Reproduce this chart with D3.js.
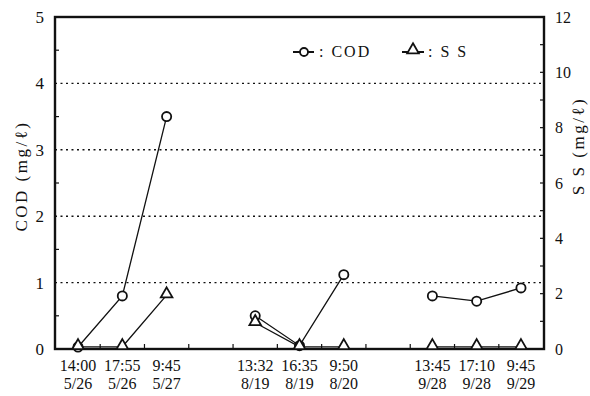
<!DOCTYPE html>
<html><head><meta charset="utf-8">
<script src="https://cdn.jsdelivr.net/npm/d3@7"></script>
<style>body{margin:0;background:#fff}svg{display:block}svg text{font-family:"Liberation Serif","DejaVu Serif",serif !important;fill:#111}</style>
</head><body>
<svg id="c" width="590" height="396"></svg>
<script>
const timeLabels = ["14:00","17:55","9:45","13:32","16:35","9:50","13:45","17:10","9:45"];
const dateLabels = ["5/26","5/26","5/27","8/19","8/19","8/20","9/28","9/28","9/29"];
const slots = [0,1,2,4,5,6,8,9,10];
const groups = [[0,1,2],[3,4,5],[6,7,8]];
const codValues = [0.03,0.8,3.5,0.5,0.05,1.12,0.8,0.72,0.92];
const ssValues = [0.08,0.08,1.95,0.95,0.08,0.08,0.08,0.08,0.08];
const codTicks = [0,1,2,3,4,5];
const ssTicks = [0,2,4,6,8,10,12];

const svg = d3.select("#c");
const L=55,R=544,T=17,B=349;
const x = d3.scaleLinear().domain([-0.52,10.52]).range([L,R]);
const yC = d3.scaleLinear().domain([0,5]).range([B,T]);
const yS = d3.scaleLinear().domain([0,12]).range([B,T]);

// gridlines
svg.append("g").selectAll("line").data([1,2,3,4]).join("line")
  .attr("x1",L).attr("x2",R).attr("y1",d=>yC(d)).attr("y2",d=>yC(d))
  .attr("stroke","#111").attr("stroke-width",1.4).attr("stroke-dasharray","2,3.5");

// left axis
const lAx = svg.append("g").attr("transform",`translate(${L},0)`)
  .call(d3.axisLeft(yC).tickValues(codTicks).tickSize(0).tickPadding(11).tickFormat(d3.format("d")));
lAx.select(".domain").remove();
lAx.selectAll("text").attr("font-size",17);
svg.append("g").selectAll("line").data(d3.range(0.5,5,1)).join("line")
  .attr("x1",L).attr("x2",L+4).attr("y1",d=>yC(d)).attr("y2",d=>yC(d)).attr("stroke","#111").attr("stroke-width",1.2);

// right axis
const rAx = svg.append("g").attr("transform",`translate(${R},0)`)
  .call(d3.axisRight(yS).tickValues(ssTicks).tickSize(0).tickPadding(11).tickFormat(d3.format("d")));
rAx.select(".domain").remove();
rAx.selectAll("text").attr("font-size",16);
svg.append("g").selectAll("line").data(d3.range(1,12,1)).join("line")
  .attr("x1",R-4).attr("x2",R).attr("y1",d=>yS(d)).attr("y2",d=>yS(d)).attr("stroke","#111").attr("stroke-width",1.2);

// x ticks (between slots)
svg.append("g").selectAll("line").data(d3.range(0.5,10,1)).join("line")
  .attr("x1",d=>x(d)).attr("x2",d=>x(d)).attr("y1",B).attr("y2",B-5).attr("stroke","#111").attr("stroke-width",1.2);

// frame
svg.append("rect").attr("x",L).attr("y",T).attr("width",R-L).attr("height",B-T)
  .attr("fill","none").attr("stroke","#111").attr("stroke-width",2.4);

// x labels
const xl = svg.append("g");
slots.forEach((s,i)=>{
  xl.append("text").attr("x",x(s)).attr("y",371).attr("text-anchor","middle").attr("font-size",16).text(timeLabels[i]);
  xl.append("text").attr("x",x(s)).attr("y",389).attr("text-anchor","middle").attr("font-size",16).text(dateLabels[i]);
});

// axis titles
svg.append("text").attr("transform","translate(27,176) rotate(-90)").attr("text-anchor","middle").attr("font-size",17).attr("letter-spacing",2.5).text("COD (mg/ℓ)");
svg.append("text").attr("transform","translate(584,146) rotate(-90)").attr("text-anchor","middle").attr("font-size",17).attr("letter-spacing",2.5).text("S S (mg/ℓ)");

const tri = d3.symbol().type(d3.symbolTriangle).size(58);
const ss = d3.line().x(d=>x(slots[d])).y(d=>yS(ssValues[d]));
const cod = d3.line().x(d=>x(slots[d])).y(d=>yC(codValues[d]));
groups.forEach(g=>{
  svg.append("path").attr("d",ss(g)).attr("fill","none").attr("stroke","#111").attr("stroke-width",1.3);
  svg.append("path").attr("d",cod(g)).attr("fill","none").attr("stroke","#111").attr("stroke-width",1.3);
});
svg.append("g").selectAll("circle").data(d3.range(9)).join("circle")
  .attr("cx",i=>x(slots[i])).attr("cy",i=>yC(codValues[i])).attr("r",4.6)
  .attr("fill","#fff").attr("stroke","#111").attr("stroke-width",1.8);
svg.append("g").selectAll("path").data(d3.range(9)).join("path")
  .attr("d",tri).attr("transform",i=>`translate(${x(slots[i])},${yS(ssValues[i])-1})`)
  .attr("fill","#fff").attr("stroke","#111").attr("stroke-width",1.8);

// legend
const lg = svg.append("g");
lg.append("line").attr("x1",293).attr("x2",314).attr("y1",52).attr("y2",52).attr("stroke","#111").attr("stroke-width",2);
lg.append("circle").attr("cx",304).attr("cy",52).attr("r",4).attr("fill","#fff").attr("stroke","#111").attr("stroke-width",1.8);
lg.append("text").attr("x",319).attr("y",57).attr("font-size",16).attr("letter-spacing",2).text(": COD");
lg.append("line").attr("x1",402).attr("x2",424).attr("y1",52).attr("y2",52).attr("stroke","#111").attr("stroke-width",2);
lg.append("path").attr("d",tri).attr("transform","translate(413,50)").attr("fill","#fff").attr("stroke","#111").attr("stroke-width",1.8);
lg.append("text").attr("x",428).attr("y",57).attr("font-size",16).attr("letter-spacing",2).text(": S S");
</script>
</body></html>
